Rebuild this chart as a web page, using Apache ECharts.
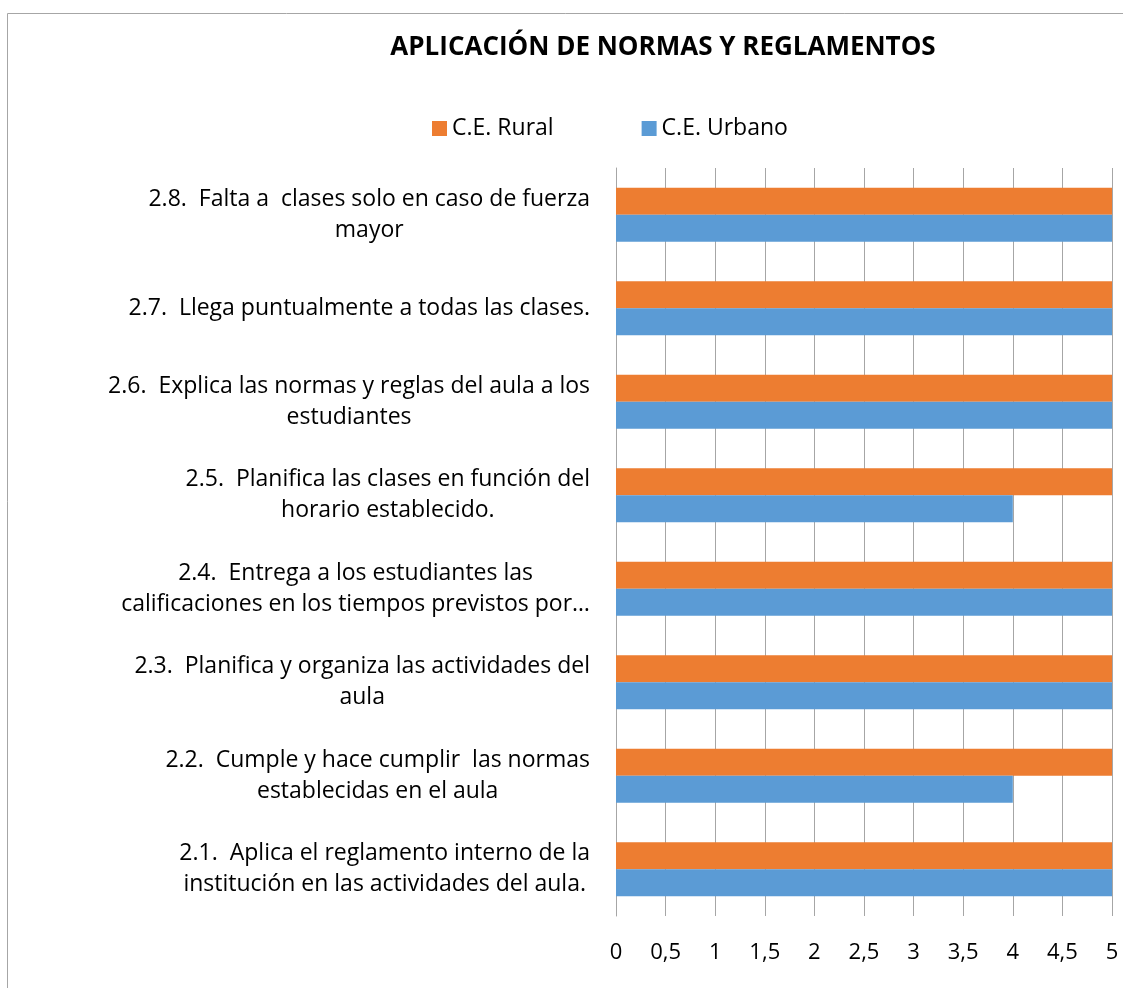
<!DOCTYPE html>
<html>
<head>
<meta charset="utf-8">
<script src="https://cdn.jsdelivr.net/npm/echarts@6/dist/echarts.min.js"></script>
<style>
  html, body { margin: 0; padding: 0; background: #fff; }
  #chart { width: 1123px; height: 988px; }
</style>
</head>
<body>
<div id="chart"></div>
<script>
// categorías de abajo hacia arriba (como en el eje)
var categories = [
  "2.1.  Aplica el reglamento interno de la\ninstitución en las actividades del aula.",
  "2.2.  Cumple y hace cumplir  las normas\nestablecidas en el aula",
  "2.3.  Planifica y organiza las actividades del\naula",
  "2.4.  Entrega a los estudiantes las\ncalificaciones en los tiempos previstos por…",
  "2.5.  Planifica las clases en función del\nhorario establecido.",
  "2.6.  Explica las normas y reglas del aula a los\nestudiantes",
  "2.7.  Llega puntualmente a todas las clases.",
  "2.8.  Falta a  clases solo en caso de fuerza\nmayor"
];
var rural = [5, 5, 5, 5, 5, 5, 5, 5];
var urbano = [5, 4, 5, 5, 4, 5, 5, 5];
var xTicks = [0, 0.5, 1, 1.5, 2, 2.5, 3, 3.5, 4, 4.5, 5];

var FONT = "Open Sans";
var chart = echarts.init(document.getElementById("chart"));

chart.setOption({
  animation: false,
  textStyle: { fontFamily: FONT },
  title: {
    text: "APLICACIÓN DE NORMAS Y REGLAMENTOS",
    left: 658,
    top: 30,
    textAlign: "center",
    textStyle: { fontFamily: FONT, fontSize: 26, fontWeight: "bold", color: "#000" }
  },
  legend: {
    data: ["C.E. Rural", "C.E. Urbano"],
    top: 112,
    left: 427,
    itemWidth: 15,
    itemHeight: 15,
    itemGap: 88,
    icon: "rect",
    textStyle: { fontFamily: FONT, fontSize: 23, color: "#000" }
  },
  graphic: [{
    type: "rect",
    shape: { x: 7.5, y: 13.5, width: 1300, height: 1300 },
    style: { fill: "none", stroke: "#a6a6a6", lineWidth: 1 },
    silent: true
  }],
  grid: { left: 616, right: 11, top: 168, bottom: 72, containLabel: false },
  xAxis: {
    type: "value",
    min: xTicks[0],
    max: xTicks[xTicks.length - 1],
    interval: 0.5,
    axisLine: { show: false },
    axisTick: { show: false },
    splitLine: { show: true, lineStyle: { color: "#a6a6a6", width: 1 } },
    axisLabel: {
      margin: 26,
      fontFamily: FONT,
      fontSize: 22,
      color: "#000",
      formatter: function (v) { return String(v).replace(".", ","); }
    }
  },
  yAxis: {
    type: "category",
    data: categories,
    axisLine: { show: true, lineStyle: { color: "#a6a6a6" } },
    axisTick: { show: false },
    splitLine: { show: false },
    axisLabel: {
      margin: 26,
      align: "right",
      formatter: function (v) {
        return v.split("\n").map(function (l) { return "{c|" + l + "}"; }).join("\n");
      },
      rich: {
        c: { fontFamily: FONT, fontSize: 23, lineHeight: 31, align: "center", color: "#000" }
      }
    }
  },
  series: [
    {
      name: "C.E. Rural",
      type: "bar",
      data: rural,
      barGap: "0%",
      barCategoryGap: "42%",
      itemStyle: { color: "#ED7D31" }
    },
    {
      name: "C.E. Urbano",
      type: "bar",
      data: urbano,
      barGap: "0%",
      barCategoryGap: "42%",
      itemStyle: { color: "#5B9BD5" }
    }
  ]
});
</script>
</body>
</html>
